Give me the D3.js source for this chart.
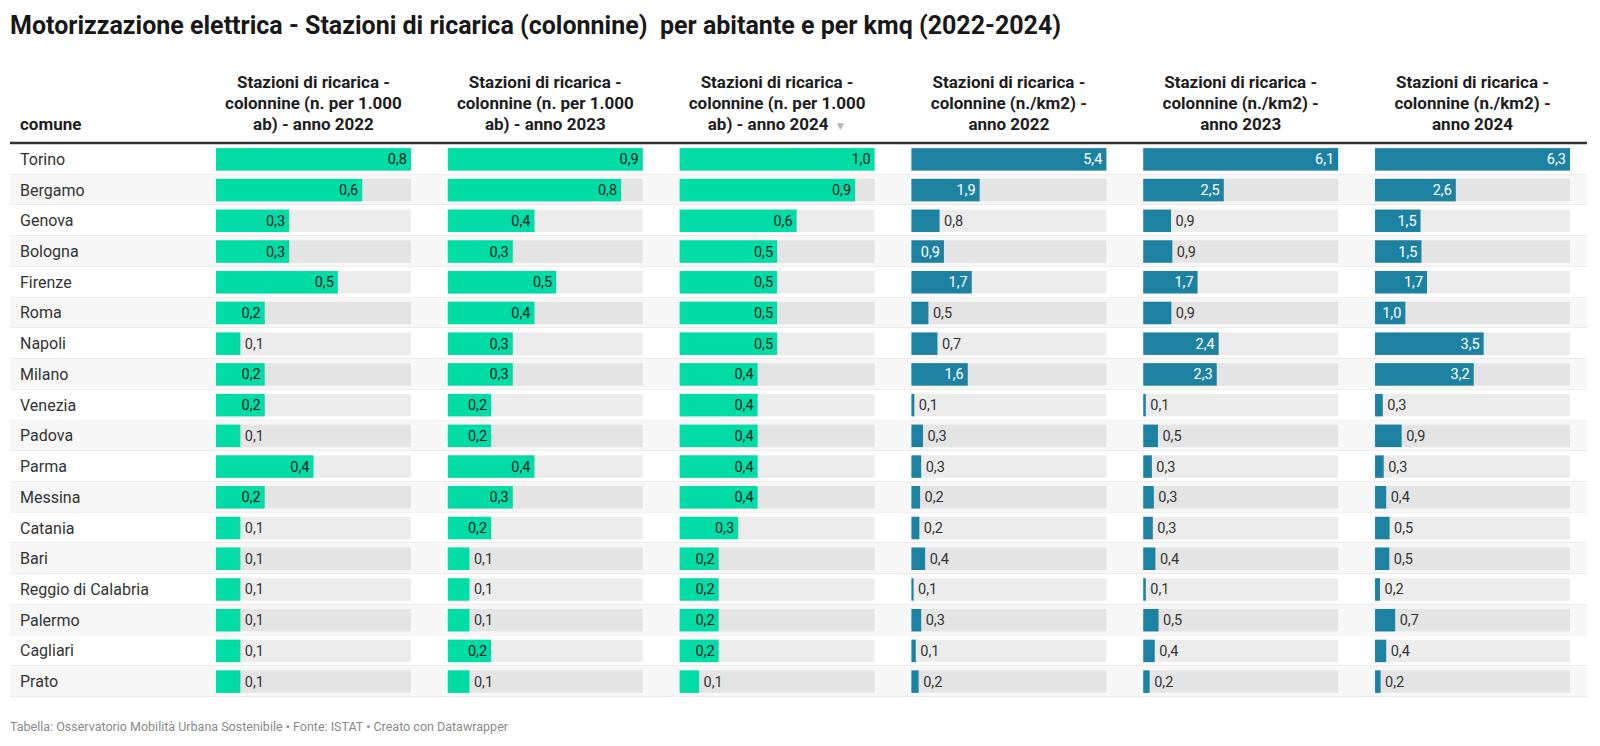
<!DOCTYPE html>
<html>
<head>
<meta charset="utf-8">
<script src="https://cdn.jsdelivr.net/npm/d3@7"></script>
<style>
  body { margin: 0; background: #fff; }
  text { font-family: Roboto, "Noto Sans", sans-serif; }
  .title { white-space: pre; }
</style>
</head>
<body>
<svg id="chart"></svg>
<script>
// data
const comuni = ["Torino","Bergamo","Genova","Bologna","Firenze","Roma","Napoli","Milano","Venezia",
  "Padova","Parma","Messina","Catania","Bari","Reggio di Calabria","Palermo","Cagliari","Prato"]

const abitanti2022 = [0.8,0.6,0.3,0.3,0.5,0.2,0.1,0.2,0.2,0.1,0.4,0.2,0.1,0.1,0.1,0.1,0.1,0.1]
const abitanti2023 = [0.9,0.8,0.4,0.3,0.5,0.4,0.3,0.3,0.2,0.2,0.4,0.3,0.2,0.1,0.1,0.1,0.2,0.1]
const abitanti2024 = [1.0,0.9,0.6,0.5,0.5,0.5,0.5,0.4,0.4,0.4,0.4,0.4,0.3,0.2,0.2,0.2,0.2,0.1]
const kmq2022 = [5.4,1.89,0.78,0.9,1.67,0.47,0.72,1.56,0.08,0.32,0.27,0.24,0.22,0.38,0.06,0.27,0.12,0.2]
const kmq2023 = [6.1,2.52,0.87,0.91,1.7,0.88,2.36,2.3,0.08,0.46,0.27,0.33,0.3,0.38,0.08,0.48,0.36,0.2]
const kmq2024 = [6.3,2.61,1.47,1.5,1.68,0.98,3.51,3.19,0.25,0.86,0.28,0.36,0.47,0.46,0.16,0.65,0.36,0.18]

const headerAbitanti = ["Stazioni di ricarica -","colonnine (n. per 1.000","ab) - anno "]
const headerKmq = ["Stazioni di ricarica -","colonnine (n./km2) -","anno "]
const anni = ["2022","2023","2024","2022","2023","2024"]

const title = "Motorizzazione elettrica - Stazioni di ricarica (colonnine)  per abitante e per kmq (2022-2024)"
const footer = "Tabella: Osservatorio Mobilità Urbana Sostenibile • Fonte: ISTAT • Creato con Datawrapper"

const W = 1600, H = 746
const green = "#00dca6", blue = "#1d81a2"

const colonne = [
  {values: abitanti2022, header: headerAbitanti, color: green, ink: "#1d1d1d"},
  {values: abitanti2023, header: headerAbitanti, color: green, ink: "#1d1d1d"},
  {values: abitanti2024, header: headerAbitanti, color: green, ink: "#1d1d1d", sorted: true},
  {values: kmq2022, header: headerKmq, color: blue, ink: "#fff"},
  {values: kmq2023, header: headerKmq, color: blue, ink: "#fff"},
  {values: kmq2024, header: headerKmq, color: blue, ink: "#fff"}
]

const it = d3.formatLocale({decimal: ",", thousands: ".", grouping: [3], currency: ["", "€"]})
const fmt = it.format(".1f")

const svg = d3.select("#chart").attr("width", W).attr("height", H)

svg.append("text")
  .attr("class", "title")
  .attr("x", 10).attr("y", 34)
  .attr("font-size", 25).attr("font-weight", 700).attr("fill", "#181818")
  .text(title)

const left = 10, right = 1587
const x = d3.scaleBand().domain(d3.range(colonne.length)).range([216, 1570]).paddingInner(0.159).paddingOuter(0)
const y = d3.scaleBand().domain(comuni).range([144, 697])
const barH = 22.5

// header
const head = svg.append("g")
head.append("text").attr("x", 20).attr("y", 130)
  .attr("font-size", 17).attr("font-weight", 700).attr("fill", "#1d1d1d")
  .text("comune")

colonne.forEach((c, i) => {
  const cx = x(i) + x.bandwidth() / 2
  const t = head.append("text")
    .attr("text-anchor", "middle")
    .attr("font-size", 17).attr("font-weight", 700).attr("fill", "#1d1d1d")
  c.header.forEach((line, j) => {
    t.append("tspan").attr("x", cx).attr("y", 88 + j * 21)
      .text(j == 2 ? line + anni[i] : line)
    if (j == 2 && c.sorted) {
      t.append("tspan").attr("dx", 6).attr("font-size", 12).attr("fill", "#b8b8b8").text("▼")
    }
  })
})

// rows
const rows = svg.append("g").selectAll("g").data(comuni).enter().append("g")

rows.append("rect")
  .attr("x", left).attr("width", right - left)
  .attr("y", d => y(d)).attr("height", y.bandwidth())
  .attr("fill", (d, i) => i % 2 ? "#f7f7f7" : "#fff")

rows.append("line")
  .attr("x1", left).attr("x2", right)
  .attr("y1", d => Math.round(y(d) + y.bandwidth()) - 0.5)
  .attr("y2", d => Math.round(y(d) + y.bandwidth()) - 0.5)
  .attr("stroke", "#ebebeb")

rows.append("text")
  .attr("x", 20).attr("y", d => y(d) + y.bandwidth() / 2 + 5.5)
  .attr("font-size", 16).attr("fill", "#333")
  .text(d => d)

svg.append("line")
  .attr("x1", left).attr("x2", right).attr("y1", 143).attr("y2", 143)
  .attr("stroke", "#333").attr("stroke-width", 2.5)

// bars
colonne.forEach((c, i) => {
  const sx = d3.scaleLinear().domain([0, d3.max(c.values)]).range([0, x.bandwidth()])
  const g = svg.append("g").attr("transform", "translate(" + x(i) + ",0)")
  const cells = g.selectAll("g").data(c.values).enter().append("g")
    .attr("transform", (d, k) => "translate(0," + (y(comuni[k]) + (y.bandwidth() - barH) / 2) + ")")

  cells.append("rect")
    .attr("width", x.bandwidth()).attr("height", barH)
    .attr("fill", "rgba(0,0,0,0.075)")

  cells.append("rect")
    .attr("width", d => sx(d)).attr("height", barH)
    .attr("fill", c.color)

  cells.append("text")
    .attr("y", barH / 2 + 5)
    .attr("font-size", 14.5)
    .text(d => fmt(d))
    .each(function(d) {
      const tw = this.getComputedTextLength()
      const bw = sx(d)
      const sel = d3.select(this)
      if (bw > tw + 10.5) {
        sel.attr("x", bw - 4).attr("text-anchor", "end").attr("fill", c.ink)
      } else {
        sel.attr("x", bw + 4.5).attr("text-anchor", "start").attr("fill", "#333")
      }
    })
})

svg.append("text")
  .attr("x", 10).attr("y", 731)
  .attr("font-size", 12.5).attr("fill", "#8a8a8a")
  .text(footer)
</script>
</body>
</html>
